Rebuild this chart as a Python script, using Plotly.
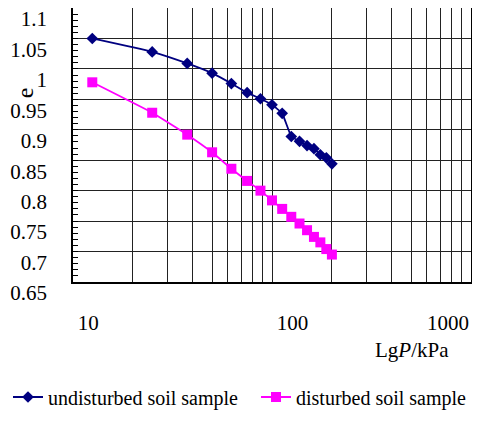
import numpy as np
import plotly.graph_objects as go

# ---- data ----
load_kpa = [12.5, 25, 37.5, 50, 62.5, 75, 87.5, 100, 112.5, 125, 137.5, 150, 162.5, 175, 187.5, 200]
e_undisturbed = [1.050, 1.028, 1.009, 0.993, 0.976, 0.961, 0.951, 0.941, 0.927,
                 0.889, 0.881, 0.874, 0.869, 0.859, 0.854, 0.844]
e_disturbed = [0.978, 0.928, 0.892, 0.863, 0.836, 0.816, 0.800, 0.784, 0.770,
               0.757, 0.746, 0.735, 0.724, 0.715, 0.704, 0.695]
series_names = ["undisturbed soil sample", "disturbed soil sample"]
x_tick_vals = [10, 100, 1000]
x_tick_text = ["10", "100", "1000"]
y_tick_vals = [0.65, 0.7, 0.75, 0.8, 0.85, 0.9, 0.95, 1.0, 1.05, 1.1]
y_tick_text = ["0.65", "0.7", "0.75", "0.8", "0.85", "0.9", "0.95", "1", "1.05", "1.1"]
y_range = [0.65, 1.1]
y_title = "e"
x_title = "Lg<i>P</i>/kPa"

FONT = "Liberation Serif"
FS = 21

# grid positions on log axis: 1..9 multiples of each decade
grid_vals = []
for d in [10, 100]:
    for m in range(1, 10):
        grid_vals.append(d * m)
grid_vals.append(1000)
grid_text = [x_tick_text[x_tick_vals.index(v)] if v in x_tick_vals[:2] else "" for v in grid_vals]

fig = go.Figure()
fig.add_trace(go.Scatter(
    x=load_kpa, y=e_undisturbed, name=series_names[0], mode="lines+markers",
    line=dict(color="#000080", width=1.8, shape="spline", smoothing=0.3),
    marker=dict(symbol="diamond", size=9, color="#000080"),
    legend="legend",
))
fig.add_trace(go.Scatter(
    x=load_kpa, y=e_disturbed, name=series_names[1], mode="lines+markers",
    line=dict(color="#FF00FF", width=1.8, shape="spline", smoothing=0.3),
    marker=dict(symbol="square", size=10, color="#FF00FF"),
    legend="legend2",
))

fig.update_xaxes(
    type="log", range=[1, 3], automargin=False,
    tickvals=grid_vals, ticktext=grid_text,
    ticks="", showgrid=True, gridcolor="#222222", gridwidth=1,
    showline=True, linecolor="black", linewidth=1.5, mirror=True,
    ticklabelposition="outside right", ticklabelstandoff=21, ticklabelshift=4,
    ticklabeloverflow="allow",
    tickfont=dict(family=FONT, size=FS, color="black"),
    zeroline=False,
)
fig.update_yaxes(
    range=[y_range[0] - 0.0001, y_range[1] + 0.0001], automargin=False,
    tickvals=y_tick_vals, ticktext=y_tick_text,
    ticks="inside", ticklen=5, tickcolor="black",
    minor=dict(ticks="inside", ticklen=5, dtick=0.01, tick0=0.65, tickcolor="black", showgrid=False),
    showgrid=True, gridcolor="#222222", gridwidth=1,
    showline=True, linecolor="black", linewidth=1.5, mirror=True,
    ticklabelstandoff=20, ticklabelshift=11, ticklabeloverflow="allow",
    tickfont=dict(family=FONT, size=FS, color="black"),
    zeroline=False,
)

fig.add_annotation(x=np.log10(x_tick_vals[2]), xref="x", y=-0.15, yref="paper",
                   text=x_tick_text[2], showarrow=False, xanchor="right", yanchor="middle",
                   font=dict(family=FONT, size=FS, color="black"))
fig.add_annotation(x=0.95, xref="paper", y=-0.248, yref="paper",
                   text=x_title, showarrow=False, xanchor="right", yanchor="middle",
                   font=dict(family=FONT, size=FS, color="black"))
fig.add_annotation(x=-0.12, xref="paper", y=0.69, yref="paper",
                   text=y_title, showarrow=False, textangle=-90,
                   xanchor="center", yanchor="middle",
                   font=dict(family=FONT, size=FS + 3, color="black"))

W, H = 464, 407
leg_common = dict(orientation="h", xref="container", yref="container",
                  yanchor="middle", font=dict(family=FONT, size=FS - 1, color="black"),
                  itemwidth=30, bgcolor="rgba(0,0,0,0)")
# page body has an 8px margin; keep the whole figure inside the visible area
fig.update_layout(
    width=W, height=H,
    margin=dict(l=65, r=1, t=0, b=H - 274, autoexpand=False),
    paper_bgcolor="white", plot_bgcolor="white",
    showlegend=True,
    legend=dict(x=0.0, y=1 - 389 / H, xanchor="left", **leg_common),
    legend2=dict(x=1.0, y=1 - 389 / H, xanchor="right", **leg_common),
    font=dict(family=FONT, size=FS, color="black"),
)

fig.write_html("out.html")
